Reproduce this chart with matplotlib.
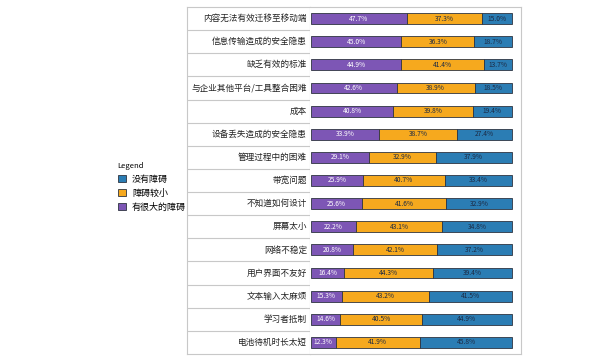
import matplotlib.pyplot as plt
from matplotlib.patches import Patch

plt.rcParams['font.family'] = ['Noto Sans CJK SC', 'DejaVu Sans']

# data
categories = ['内容无法有效迁移至移动端', '信息传输造成的安全隐患', '缺乏有效的标准',
              '与企业其他平台/工具整合困难', '成本', '设备丢失造成的安全隐患',
              '管理过程中的困难', '带宽问题', '不知道如何设计', '屏幕太小',
              '网络不稳定', '用户界面不友好', '文本输入太麻烦', '学习者抵制',
              '电池待机时长太短']
big = [47.7, 45.0, 44.9, 42.6, 40.8, 33.9, 29.1, 25.9, 25.6, 22.2, 20.8, 16.4, 15.3, 14.6, 12.3]
small = [37.3, 36.3, 41.4, 38.9, 39.8, 38.7, 32.9, 40.7, 41.6, 43.1, 42.1, 44.3, 43.2, 40.5, 41.9]
none = [15.0, 18.7, 13.7, 18.5, 19.4, 27.4, 37.9, 33.4, 32.9, 34.8, 37.2, 39.4, 41.5, 44.9, 45.8]
legend_labels = ['没有障碍', '障碍较小', '有很大的障碍']

purple = '#7d56b5'
orange = '#f6a91e'
blue = '#2b7db4'
edge = '#2e3440'
frame = '#c8c8c8'

W, H = 600, 360
fig = plt.figure(figsize=(6, 3.6), dpi=100)

def box(x0, y0, x1, y1):
    return [x0 / W, 1 - y1 / H, (x1 - x0) / W, (y1 - y0) / H]

n = len(categories)

# label column
lab = fig.add_axes(box(187, 7, 310, 354))
lab.set_xlim(0, 1)
lab.set_ylim(n - 0.5, -0.5)
lab.set_xticks([])
lab.set_yticks([])
for s in lab.spines.values():
    s.set_color(frame)
    s.set_linewidth(0.8)
for i in range(n - 1):
    lab.axhline(i + 0.5, color=frame, linewidth=0.8)
for i, c in enumerate(categories):
    lab.text(0.975, i, c, ha='right', va='center', fontsize=6.2, color='#222222')

# bar area
ax = fig.add_axes(box(310, 7, 521, 354))
ax.set_xlim(-0.5, 104.5)
ax.set_ylim(n - 0.5, -0.5)
ax.set_xticks([])
ax.set_yticks([])
for s in ax.spines.values():
    s.set_color(frame)
    s.set_linewidth(0.8)
ax.spines['left'].set_visible(False)

y = list(range(n))
left2 = big
left3 = [a + b for a, b in zip(big, small)]
ax.barh(y, big, height=0.47, color=purple, edgecolor=edge, linewidth=0.6)
ax.barh(y, small, left=left2, height=0.47, color=orange, edgecolor=edge, linewidth=0.6)
ax.barh(y, none, left=left3, height=0.47, color=blue, edgecolor=edge, linewidth=0.6)

for i in range(n):
    ax.text(big[i] / 2, i, f'{big[i]:.1f}%', ha='center', va='center',
            fontsize=4.8, color='white')
    ax.text(left2[i] + small[i] / 2, i, f'{small[i]:.1f}%', ha='center', va='center',
            fontsize=4.8, color='#1c2a44')
    ax.text(left3[i] + none[i] / 2, i, f'{none[i]:.1f}%', ha='center', va='center',
            fontsize=4.8, color='#1c2a44')

# legend
handles = [Patch(facecolor=blue, edgecolor=edge, linewidth=0.6),
           Patch(facecolor=orange, edgecolor=edge, linewidth=0.6),
           Patch(facecolor=purple, edgecolor=edge, linewidth=0.6)]
leg = fig.legend(handles, legend_labels, title='Legend', loc='upper left',
                 bbox_to_anchor=(114 / W, 1 - 158 / H), frameon=False,
                 fontsize=6.5, title_fontsize=5.5, handlelength=0.9, handleheight=0.9,
                 handletextpad=0.7, labelspacing=0.55, borderaxespad=0)
leg._legend_box.align = 'left'

fig.savefig('out.png', dpi=100, facecolor='white')
